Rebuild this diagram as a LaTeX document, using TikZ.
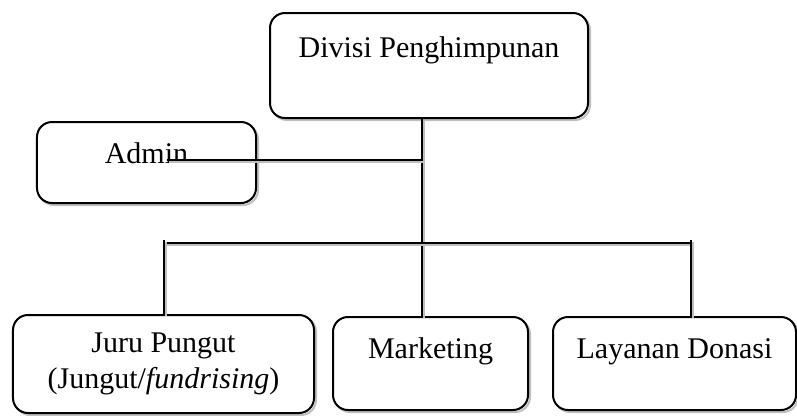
\documentclass[tikz,border=0pt]{standalone}
\usepackage{fontspec}
\setmainfont{Liberation Serif}
\usepackage{tikz}

\tikzset{
  shade line/.style={preaction={draw=gray!50, line width=0.8pt,
      transform canvas={xshift=0.8pt,yshift=-0.8pt}}},
  unitbox/.style={draw, line width=0.8pt, rounded corners=6pt, inner sep=0pt,
      align=center, fill=white, shade line, font=\fontsize{12}{14.4}\selectfont},
  conn/.style={line width=0.8pt, shade line}
}

\begin{document}
\begin{tikzpicture}[x=0.4pt, y=-0.4pt]
\useasboundingbox (0,0) rectangle (797,415);
% ---- boxes ----
\node[unitbox, minimum width=127.2pt, text height=17.6pt, text depth=24.4pt] (div) at (429,65.5) {Divisi Penghimpunan};
\node[unitbox, minimum width=87.6pt, text height=16.4pt, text depth=16pt] (admin) at (146.5,162.5) {Admin};
\node[unitbox, minimum width=120.4pt, minimum height=39.2pt] (juru) at (163.5,364) {Juru Pungut\\(Jungut/\textit{fundrising})};
\node[unitbox, minimum width=78pt, text height=16.4pt, text depth=20.8pt] (mkt) at (430.5,363.5) {Marketing};
\node[unitbox, minimum width=97.2pt, text height=16.4pt, text depth=20.8pt] (layanan) at (674.5,363.5) {Layanan Donasi};
% ---- connectors ----
\coordinate (trunk) at (422,243);
\coordinate (barL) at (164,243);
\coordinate (barR) at (691,243);
\coordinate (adminend) at (167,160);
\draw[conn] (div.south -| trunk) -- (mkt.north -| trunk);
\draw[conn] (adminend) -- (adminend -| trunk);
\draw[conn] (barL) -- (barR);
\draw[conn] ([yshift=1.2pt]barL) -- (juru.north -| barL);
\draw[conn] ([yshift=1.2pt]barR) -- (layanan.north -| barR);
\end{tikzpicture}
\end{document}
